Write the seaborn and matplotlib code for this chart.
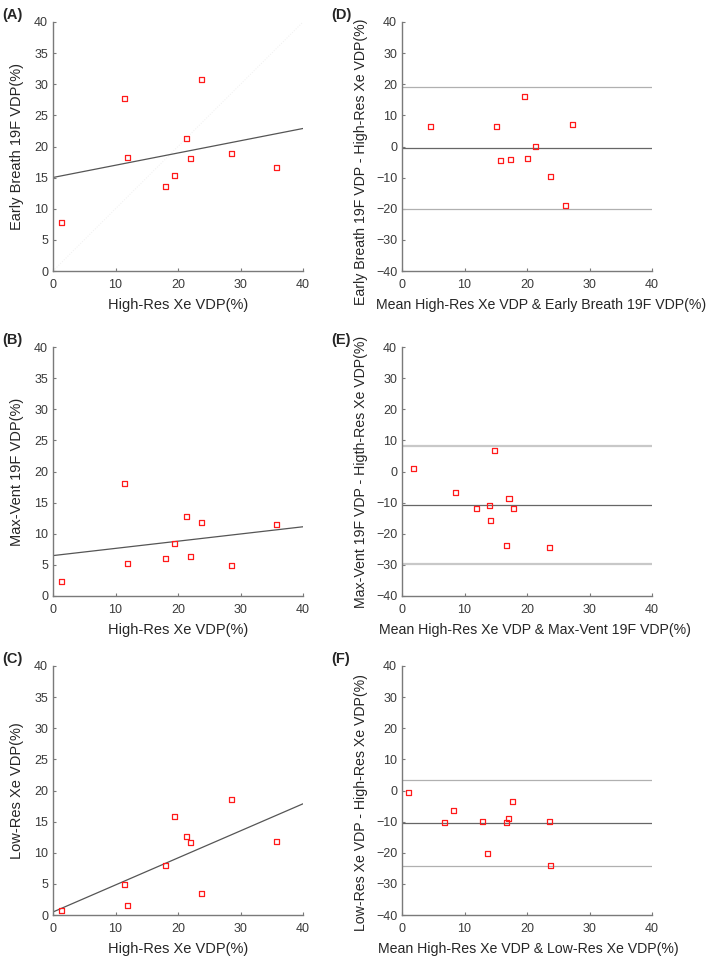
import numpy as np
import pandas as pd
import matplotlib
matplotlib.use("Agg")
import matplotlib.pyplot as plt
import seaborn as sns

sns.set_style("ticks")
plt.rcParams['font.family'] = ['Liberation Sans', 'DejaVu Sans']
plt.rcParams['axes.edgecolor'] = '#7a7a7a'
plt.rcParams['xtick.color'] = '#7a7a7a'
plt.rcParams['ytick.color'] = '#7a7a7a'
plt.rcParams['xtick.labelcolor'] = '#3a3a3a'
plt.rcParams['ytick.labelcolor'] = '#3a3a3a'

# valores (VDP em %)
high_res_xe = [1.37, 11.49, 11.94, 17.97, 19.48, 21.42, 21.99, 23.81, 28.58, 35.76]
early_breath_19f = [7.72, 27.67, 18.28, 13.62, 15.28, 21.34, 18.07, 30.83, 18.87, 16.68]
max_vent_19f = [2.39, 18.09, 5.16, 5.96, 8.51, 12.82, 6.28, 11.81, 4.84, 11.49]
low_res_xe = [0.80, 4.93, 1.55, 7.93, 15.90, 12.58, 11.57, 3.53, 18.53, 11.73]

row_letters = [("(A)", "(D)"), ("(B)", "(E)"), ("(C)", "(F)")]
row_series = [early_breath_19f, max_vent_19f, low_res_xe]
row_names = ["Early Breath 19F VDP", "Max-Vent 19F VDP", "Low-Res Xe VDP"]
diff_ylabels = [
    "Early Breath 19F VDP - High-Res Xe VDP(%)",
    "Max-Vent 19F VDP - Higth-Res Xe VDP(%)",
    "Low-Res Xe VDP - High-Res Xe VDP(%)",
]
diff_label_y = [0.44, 0.5, 0.45]
diff_label_x = [0.558, 0.53, 0.505]

W, H = 709, 958
fig = plt.figure(figsize=(W / 100, H / 100), dpi=100)

col_left = [53, 402]
col_width = 250
row_top = [22, 347, 666]
ax_h = 249

marker_kw = dict(marker='s', s=13, facecolor='none', edgecolor='#ff1a1a', linewidth=0.9)


def style_axes(ax):
    sns.despine(ax=ax)
    ax.tick_params(direction='in', length=2.5, width=0.8)
    ax.tick_params(axis='x', pad=5.5, labelsize=9)
    ax.tick_params(axis='y', pad=3.5, labelsize=9)
    for s in ['left', 'bottom']:
        ax.spines[s].set_linewidth(1.0)


for i in range(3):
    y_vals = row_series[i]
    df = pd.DataFrame({"x": high_res_xe, "y": y_vals})
    df["mean"] = (df["x"] + df["y"]) / 2
    df["diff"] = df["y"] - df["x"]

    # correlação
    ax = fig.add_axes([col_left[0] / W, 1 - (row_top[i] + ax_h) / H, col_width / W, ax_h / H])
    ax.set_xlim(0, 40)
    ax.set_ylim(0, 40)
    if i == 0:
        ax.plot([0, 40], [0, 40], color='#efefef', lw=0.7, ls=':', zorder=1)
    sns.regplot(data=df, x="x", y="y", ax=ax, scatter=False, truncate=False, ci=None,
                line_kws=dict(color='#555555', lw=0.9))
    sns.scatterplot(data=df, x="x", y="y", ax=ax, zorder=3, **marker_kw)
    ax.set_xlim(0, 40)
    ax.set_ylim(0, 40)
    ax.set_xticks(range(0, 41, 10))
    ax.set_yticks(range(0, 41, 5))
    ax.set_xlabel("High-Res Xe VDP(%)", fontsize=10.5, color='#262626', labelpad=5)
    ax.set_ylabel(row_names[i] + "(%)", fontsize=10.5, color='#262626', labelpad=7)
    style_axes(ax)

    # Bland-Altman
    bx = fig.add_axes([col_left[1] / W, 1 - (row_top[i] + ax_h) / H, col_width / W, ax_h / H])
    md = df["diff"].mean()
    sd = df["diff"].std(ddof=1)
    lim_color = '#c8c8c8' if i == 1 else '#b0b0b0'
    lim_lw = 1.6 if i == 1 else 0.9
    bx.axhline(md + 1.96 * sd, color=lim_color, lw=lim_lw, zorder=1)
    bx.axhline(md - 1.96 * sd, color=lim_color, lw=lim_lw, zorder=1)
    bx.axhline(md, color='#666666', lw=0.9, zorder=1)
    sns.scatterplot(data=df, x="mean", y="diff", ax=bx, zorder=3, **marker_kw)
    bx.set_xlim(0, 40)
    bx.set_ylim(-40, 40)
    bx.set_xticks(range(0, 41, 10))
    bx.set_yticks(range(-40, 41, 10))
    bx.set_xlabel("Mean High-Res Xe VDP & " + row_names[i] + "(%)", fontsize=10.2,
                  color='#262626')
    bx.xaxis.set_label_coords(diff_label_x[i], -0.108)
    bx.set_ylabel(diff_ylabels[i], fontsize=10.2, color='#262626')
    bx.yaxis.set_label_coords(-0.135, diff_label_y[i])
    style_axes(bx)

    fig.text(2 / W, 1 - (row_top[i] - 7) / H, row_letters[i][0], fontsize=10.5,
             fontweight='bold', va='center', ha='left')
    fig.text(331 / W, 1 - (row_top[i] - 7) / H, row_letters[i][1], fontsize=10.5,
             fontweight='bold', va='center', ha='left')

fig.savefig("out.png", dpi=100)
